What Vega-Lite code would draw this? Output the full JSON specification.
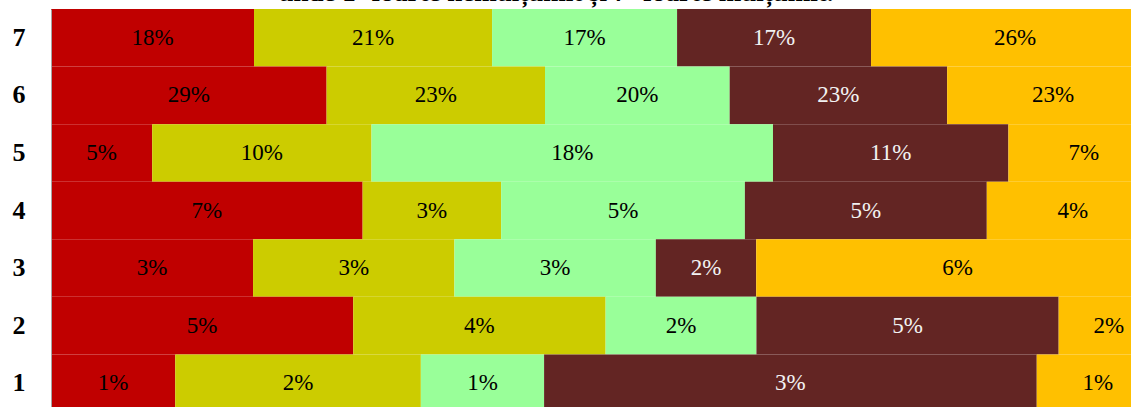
{
  "$schema": "https://vega.github.io/schema/vega-lite/v6.json",
  "width": 1108,
  "height": 403,
  "autosize": {"type": "none"},
  "padding": {"left": 51, "top": 9, "right": 0, "bottom": 0},
  "background": "#ffffff",
  "config": {"view": {"stroke": null}},
  "title": {
    "text": "unde 1 -foarte nemulțumit și 7 -foarte mulțumit.",
    "font": "Liberation Serif",
    "fontSize": 27,
    "fontWeight": "bold",
    "color": "#000000",
    "anchor": "middle",
    "dx": -49,
    "offset": 2
  },
  "data": {
    "values": [
      {"rating": 7, "serie": "Seria 1", "value": 0.1814},
      {"rating": 7, "serie": "Seria 2", "value": 0.2127},
      {"rating": 7, "serie": "Seria 3", "value": 0.1653},
      {"rating": 7, "serie": "Seria 4", "value": 0.1733},
      {"rating": 7, "serie": "Seria 5", "value": 0.2573},
      {"rating": 6, "serie": "Seria 1", "value": 0.294},
      {"rating": 6, "serie": "Seria 2", "value": 0.233},
      {"rating": 6, "serie": "Seria 3", "value": 0.197},
      {"rating": 6, "serie": "Seria 4", "value": 0.232},
      {"rating": 6, "serie": "Seria 5", "value": 0.226},
      {"rating": 5, "serie": "Seria 1", "value": 0.0465},
      {"rating": 5, "serie": "Seria 2", "value": 0.1008},
      {"rating": 5, "serie": "Seria 3", "value": 0.1845},
      {"rating": 5, "serie": "Seria 4", "value": 0.1082},
      {"rating": 5, "serie": "Seria 5", "value": 0.0692},
      {"rating": 4, "serie": "Seria 1", "value": 0.0675},
      {"rating": 4, "serie": "Seria 2", "value": 0.030},
      {"rating": 4, "serie": "Seria 3", "value": 0.0528},
      {"rating": 4, "serie": "Seria 4", "value": 0.0524},
      {"rating": 4, "serie": "Seria 5", "value": 0.0373},
      {"rating": 3, "serie": "Seria 1", "value": 0.0310},
      {"rating": 3, "serie": "Seria 2", "value": 0.0309},
      {"rating": 3, "serie": "Seria 3", "value": 0.0309},
      {"rating": 3, "serie": "Seria 4", "value": 0.0154},
      {"rating": 3, "serie": "Seria 5", "value": 0.0618},
      {"rating": 2, "serie": "Seria 1", "value": 0.0491},
      {"rating": 2, "serie": "Seria 2", "value": 0.0410},
      {"rating": 2, "serie": "Seria 3", "value": 0.0245},
      {"rating": 2, "serie": "Seria 4", "value": 0.0491},
      {"rating": 2, "serie": "Seria 5", "value": 0.0163},
      {"rating": 1, "serie": "Seria 1", "value": 0.00875},
      {"rating": 1, "serie": "Seria 2", "value": 0.0173},
      {"rating": 1, "serie": "Seria 3", "value": 0.00868},
      {"rating": 1, "serie": "Seria 4", "value": 0.0347},
      {"rating": 1, "serie": "Seria 5", "value": 0.00861}
    ]
  },
  "transform": [
    {
      "stack": "value",
      "groupby": ["rating"],
      "sort": [{"field": "serie", "order": "ascending"}],
      "offset": "normalize",
      "as": ["x0", "x1"]
    }
  ],
  "encoding": {
    "y": {
      "field": "rating",
      "type": "ordinal",
      "sort": "descending",
      "scale": {"paddingInner": 0, "paddingOuter": 0},
      "axis": {
        "title": null,
        "ticks": false,
        "domain": true,
        "domainColor": "#A6A6A6",
        "domainWidth": 1,
        "labelFont": "Liberation Serif",
        "labelFontSize": 26,
        "labelFontWeight": "bold",
        "labelColor": "#000000",
        "labelPadding": 26,
        "zindex": 1
      }
    }
  },
  "layer": [
    {
      "mark": {"type": "bar", "stroke": null},
      "encoding": {
        "x": {
          "field": "x0",
          "type": "quantitative",
          "scale": {"domain": [0, 1], "nice": false, "zero": true},
          "axis": null
        },
        "x2": {"field": "x1"},
        "color": {
          "field": "serie",
          "type": "nominal",
          "scale": {
            "domain": ["Seria 1", "Seria 2", "Seria 3", "Seria 4", "Seria 5"],
            "range": ["#C00000", "#CCCC00", "#99FF99", "#632523", "#FFC000"]
          },
          "legend": null
        }
      }
    },
    {
      "transform": [
        {"fold": ["x0", "x1"], "as": ["edge", "pos"]},
        {
          "aggregate": [{"op": "mean", "field": "pos", "as": "mid"}],
          "groupby": ["rating", "serie", "value"]
        }
      ],
      "mark": {
        "type": "text",
        "font": "Liberation Serif",
        "fontSize": 23,
        "align": "center",
        "baseline": "middle"
      },
      "encoding": {
        "x": {"field": "mid", "type": "quantitative"},
        "text": {"field": "value", "type": "quantitative", "format": ".0%"},
        "color": {
          "condition": {"test": "datum.serie === 'Seria 4'", "value": "#F2F2F2"},
          "value": "#000000"
        }
      }
    }
  ]
}
